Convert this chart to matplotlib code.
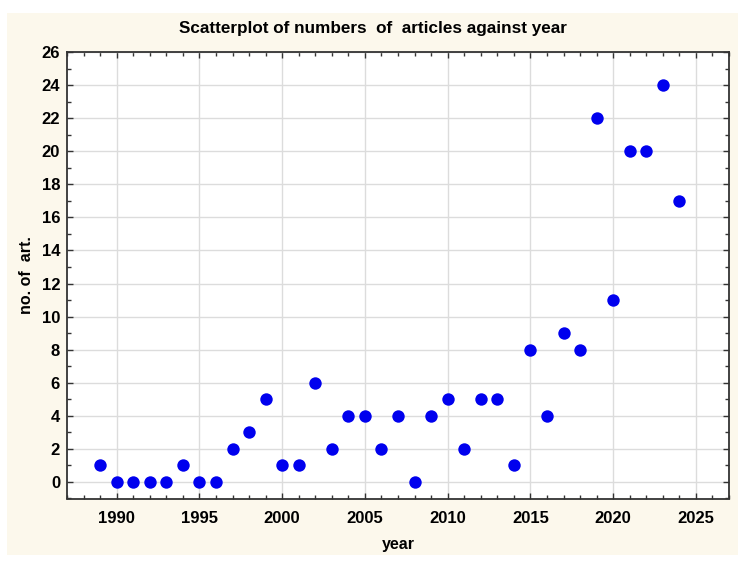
import matplotlib
matplotlib.use('Agg')
import matplotlib.pyplot as plt
from matplotlib.patches import Rectangle
from matplotlib.ticker import MultipleLocator

# data
years = [1989, 1990, 1991, 1992, 1993, 1994, 1995, 1996, 1997, 1998,
         1999, 2000, 2001, 2002, 2003, 2004, 2005, 2006, 2007, 2008,
         2009, 2010, 2011, 2012, 2013, 2014, 2015, 2016, 2017, 2018,
         2019, 2020, 2021, 2022, 2023, 2024]
articles = [1, 0, 0, 0, 0, 1, 0, 0, 2, 3,
            5, 1, 1, 6, 2, 4, 4, 2, 4, 0,
            4, 5, 2, 5, 5, 1, 8, 4, 9, 8,
            22, 11, 20, 20, 24, 17]

plt.rcParams['font.family'] = ['Liberation Sans', 'DejaVu Sans']

W, H = 746, 564
fig = plt.figure(figsize=(W / 100, H / 100), dpi=100, facecolor='white')

# cream panel behind the plot
panel = Rectangle((7 / W, 1 - 555 / H), (738 - 7) / W, (555 - 13) / H,
                  transform=fig.transFigure, facecolor='#FCF8EC',
                  edgecolor='none', zorder=-10)
fig.add_artist(panel)

ax = fig.add_axes([67 / W, 1 - 498.5 / H, (729 - 67) / W, (498.5 - 52) / H])
ax.set_zorder(1)
ax.set_facecolor('white')

ax.scatter(years, articles, s=80, color='#0000EE', zorder=3, linewidths=0)

ax.set_xlim(1987, 2027)
ax.set_ylim(-1, 26)
ax.xaxis.set_major_locator(MultipleLocator(5))
ax.xaxis.set_minor_locator(MultipleLocator(1))
ax.yaxis.set_major_locator(MultipleLocator(2))
ax.yaxis.set_minor_locator(MultipleLocator(1))

ax.grid(True, which='major', color='#DCDCDC', linewidth=1, zorder=0)
ax.set_axisbelow(True)

ax.tick_params(which='both', direction='in', top=True, right=True,
               color='#333333')
ax.tick_params(which='major', length=4, width=1)
ax.tick_params(which='minor', length=3, width=1)
ax.tick_params(axis='x', which='major', pad=9, labelsize=12)
ax.tick_params(axis='y', which='major', pad=5, labelsize=12)
for lab in ax.get_xticklabels() + ax.get_yticklabels():
    lab.set_fontweight('bold')

for sp in ax.spines.values():
    sp.set_color('#333333')
    sp.set_linewidth(1.3)

fig.text(0.5, 1 - 28 / H, 'Scatterplot of numbers  of  articles against year',
         fontsize=12.3, fontweight='bold', ha='center', va='center')
ax.set_xlabel('year', fontsize=11.5, fontweight='bold', labelpad=8)
ax.set_ylabel('no. of  art.', fontsize=11.5, fontweight='bold', labelpad=5.5)

fig.savefig('out.png', dpi=100, facecolor='white')
